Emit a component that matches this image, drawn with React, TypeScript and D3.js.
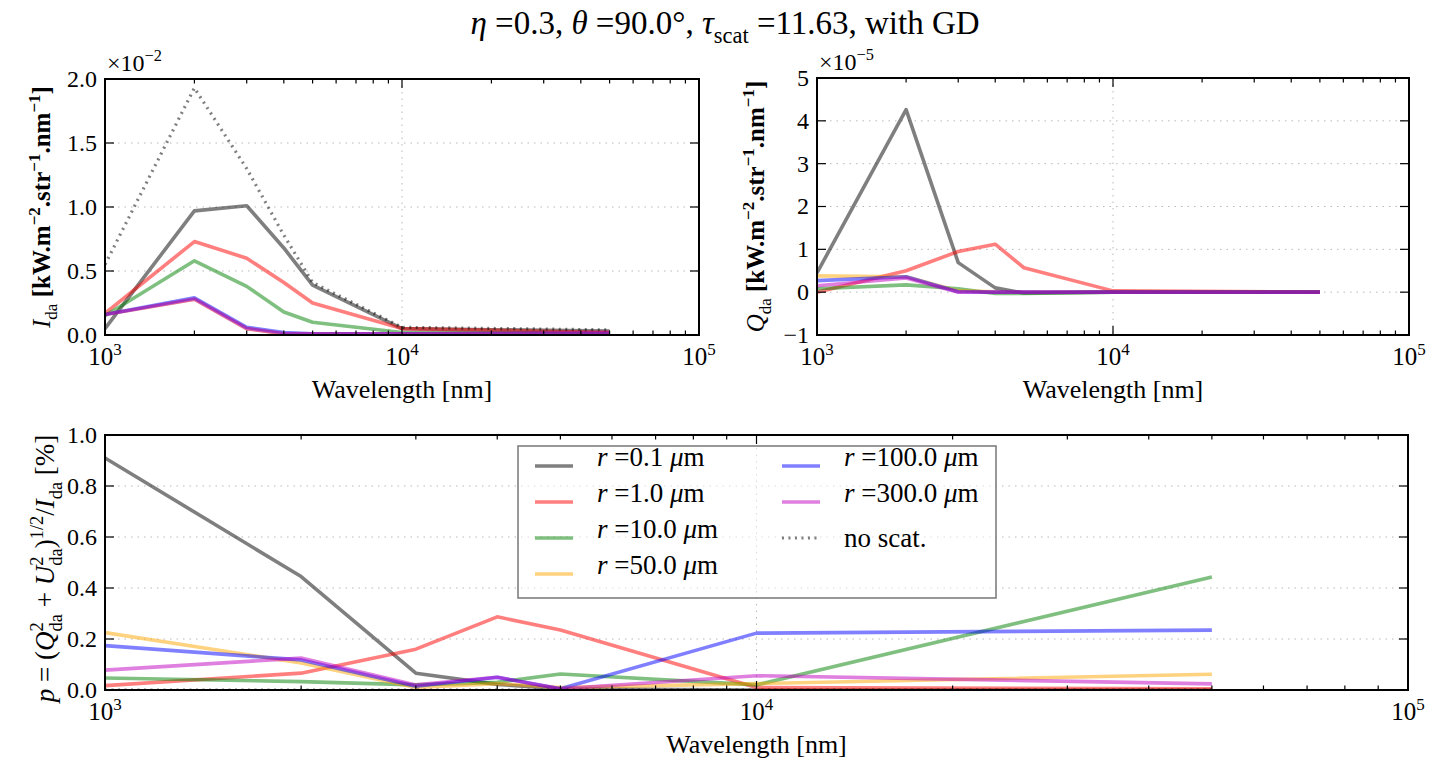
import React from "react";
import * as d3 from "d3";

const FONT = "'Liberation Serif', 'DejaVu Serif', serif";

// sampled wavelengths [nm]
const wavelengths = [1000, 2000, 3000, 4000, 5000, 10000, 50000];
const radiusLabels = ["0.1", "1.0", "10.0", "50.0", "100.0", "300.0"];
const lineColors = ["#000000", "#ff0000", "#008000", "#ffa500", "#0000ff", "#bf00bf"];

// I_da per radius, in units of 1e-2 kW m^-2 str^-1 nm^-1
const intensity = [
  [0.05, 0.97, 1.01, 0.68, 0.39, 0.05, 0.03],
  [0.17, 0.73, 0.6, 0.41, 0.25, 0.05, 0.02],
  [0.15, 0.58, 0.38, 0.18, 0.1, 0.02, 0.01],
  [0.16, 0.28, 0.05, 0.01, 0.01, 0.01, 0.01],
  [0.16, 0.29, 0.06, 0.02, 0.01, 0.01, 0.01],
  [0.16, 0.28, 0.05, 0.01, 0.01, 0.01, 0.02],
];
const intensityNoScat = [0.55, 1.93, 1.3, 0.78, 0.41, 0.06, 0.04];

// Q_da per radius, in units of 1e-5
const stokesQ = [
  [0.45, 4.26, 0.69, 0.1, -0.02, 0.0, 0.0],
  [0.0, 0.5, 0.95, 1.12, 0.57, 0.03, 0.0],
  [0.08, 0.17, 0.08, -0.03, -0.03, 0.0, 0.0],
  [0.38, 0.36, 0.03, 0.01, 0.0, 0.0, 0.0],
  [0.27, 0.36, 0.01, 0.0, 0.0, 0.0, 0.0],
  [0.15, 0.33, 0.0, 0.0, 0.0, 0.0, 0.0],
];

// degree of polarisation p [%]
const polarization = [
  [0.91, 0.445, 0.066, 0.022, 0.005, 0.0, 0.0],
  [0.017, 0.066, 0.16, 0.287, 0.235, 0.01, 0.005],
  [0.047, 0.033, 0.02, 0.03, 0.063, 0.02, 0.443],
  [0.225, 0.106, 0.01, 0.025, 0.01, 0.025, 0.062],
  [0.174, 0.118, 0.015, 0.05, 0.005, 0.223, 0.235],
  [0.078, 0.125, 0.02, 0.05, 0.005, 0.056, 0.024],
];
const polarizationNoScat = [0, 0, 0, 0, 0, 0, 0];

const intensityTicks = [0, 0.5, 1.0, 1.5, 2.0];
const stokesTicks = [-1, 0, 1, 2, 3, 4, 5];
const polarizationTicks = [0, 0.2, 0.4, 0.6, 0.8, 1.0];

type Piece = { t: string; s?: "sub" | "sup"; i?: boolean; b?: boolean; dx?: number };

// math-ish text with sub/superscripts as tspans
function rich(pieces: Piece[], size: number) {
  let shift = 0;
  return pieces.map((p, k) => {
    const target = p.s === "sub" ? size * 0.28 : p.s === "sup" ? -size * 0.42 : 0;
    const dy = target - shift;
    shift = target;
    return (
      <tspan
        key={k}
        dy={dy}
        dx={p.dx}
        fontSize={p.s ? size * 0.68 : size}
        fontStyle={p.i ? "italic" : undefined}
        fontWeight={p.b ? "bold" : undefined}
      >
        {p.t}
      </tspan>
    );
  });
}

type Box = { left: number; right: number; top: number; bottom: number };

function Panel({ id, box, yDomain, yTicks, yFormat, series, noScat, yLabel, multiplier, children }: any) {
  const b: Box = box;
  const x = d3.scaleLog().domain([1e3, 1e5]).range([b.left, b.right]);
  const y = d3.scaleLinear().domain(yDomain).range([b.bottom, b.top]);
  const line = d3
    .line<number>()
    .x((_, i) => x(wavelengths[i]))
    .y((v) => y(v));
  const allTicks = x.ticks();
  const major = allTicks.filter((t) => Number.isInteger(Math.log10(t)));
  const minor = allTicks.filter((t) => !Number.isInteger(Math.log10(t)));
  const grid = { stroke: "#b8b8b8", strokeWidth: 1, strokeDasharray: "1.5,5" };

  return (
    <g>
      <defs>
        <clipPath id={id}>
          <rect x={b.left} y={b.top} width={b.right - b.left} height={b.bottom - b.top} />
        </clipPath>
      </defs>
      {major.map((t) => (
        <line key={"gx" + t} x1={x(t)} x2={x(t)} y1={b.top} y2={b.bottom} {...grid} />
      ))}
      {yTicks.map((t: number) => (
        <line key={"gy" + t} x1={b.left} x2={b.right} y1={y(t)} y2={y(t)} {...grid} />
      ))}
      <g clipPath={`url(#${id})`} fill="none">
        {series.map((vals: number[], i: number) => (
          <path
            key={i}
            d={line(vals) || ""}
            stroke={lineColors[i]}
            strokeOpacity={0.5}
            strokeWidth={3.6}
            strokeLinejoin="round"
          />
        ))}
        {noScat && (
          <path
            d={line(noScat) || ""}
            stroke="#000"
            strokeOpacity={0.5}
            strokeWidth={3.2}
            strokeDasharray="2,4.5"
          />
        )}
      </g>
      {children}
      <rect x={b.left} y={b.top} width={b.right - b.left} height={b.bottom - b.top} fill="none" stroke="#000" strokeWidth={2} />
      <g stroke="#000" strokeWidth={1.2}>
        {major.map((t) => (
          <g key={"mx" + t}>
            <line x1={x(t)} x2={x(t)} y1={b.bottom} y2={b.bottom - 9} />
            <line x1={x(t)} x2={x(t)} y1={b.top} y2={b.top + 9} />
          </g>
        ))}
        {minor.map((t) => (
          <g key={"nx" + t}>
            <line x1={x(t)} x2={x(t)} y1={b.bottom} y2={b.bottom - 4.5} />
            <line x1={x(t)} x2={x(t)} y1={b.top} y2={b.top + 4.5} />
          </g>
        ))}
        {yTicks.map((t: number) => (
          <g key={"my" + t}>
            <line x1={b.left} x2={b.left + 9} y1={y(t)} y2={y(t)} />
            <line x1={b.right} x2={b.right - 9} y1={y(t)} y2={y(t)} />
          </g>
        ))}
      </g>
      <g fontFamily={FONT} fill="#000">
        {major.map((t) => (
          <text key={"lx" + t} x={x(t)} y={b.bottom + 30} textAnchor="middle" fontSize={25}>
            {rich([{ t: "10" }, { t: String(Math.round(Math.log10(t))), s: "sup" }], 25)}
          </text>
        ))}
        {yTicks.map((t: number) => (
          <text key={"ly" + t} x={b.left - 8} y={y(t)} dy="0.33em" textAnchor="end" fontSize={24}>
            {yFormat(t)}
          </text>
        ))}
        <text x={(b.left + b.right) / 2} y={b.bottom + 63} textAnchor="middle" fontSize={26}>
          Wavelength [nm]
        </text>
        {multiplier && (
          <text x={b.left + 2} y={b.top - 8} fontSize={24}>
            {rich([{ t: "×10" }, { t: multiplier, s: "sup" }], 24)}
          </text>
        )}
        {yLabel}
      </g>
    </g>
  );
}

function Legend({ x0, y0, w, h }: any) {
  const rows = [466, 502, 538, 574].map((v) => v - y0);
  const entries = radiusLabels.map((r, i) => ({ label: r, color: lineColors[i], dotted: false }));
  const cells = [
    ...entries.map((e, i) => ({ ...e, col: i < 4 ? 0 : 1, row: i < 4 ? i : i - 4 })),
    { label: "", color: "#000", dotted: true, col: 1, row: 2 },
  ];
  const colX = [17, 264];
  return (
    <g transform={`translate(${x0},${y0})`} fontFamily={FONT}>
      <rect width={w} height={h} fill="#fff" fillOpacity={0.5} stroke="#7f7f7f" strokeWidth={1.6} />
      {cells.map((c, i) => (
        <g key={i} transform={`translate(${colX[c.col]},${rows[c.row]})`}>
          <line
            x1={0}
            x2={38}
            stroke={c.color}
            strokeOpacity={0.5}
            strokeWidth={c.dotted ? 3.2 : 3.6}
            strokeDasharray={c.dotted ? "2,4.5" : undefined}
          />
          <text x={62} dy="0.33em" fontSize={27} style={{ whiteSpace: "pre" }}>
            {c.dotted
              ? "no scat."
              : rich([{ t: "r", i: true }, { t: " =" + c.label + " " }, { t: "μ", i: true }, { t: "m" }], 27)}
          </text>
        </g>
      ))}
    </g>
  );
}

export default function App() {
  const tl: Box = { left: 105, right: 699, top: 79, bottom: 335 };
  const tr: Box = { left: 817, right: 1409, top: 78, bottom: 335 };
  const bt: Box = { left: 105, right: 1408, top: 435, bottom: 690 };

  const unitPieces: Piece[] = [
    { t: " [kW.m", b: true },
    { t: "−2", s: "sup", b: true },
    { t: ".str", b: true },
    { t: "−1", s: "sup", b: true },
    { t: ".nm", b: true },
    { t: "−1", s: "sup", b: true },
    { t: "]", b: true },
  ];

  return (
    <svg
      width={1451}
      height={782}
      style={{ position: "absolute", left: 0, top: 0, background: "#fff" }}
      fontFamily={FONT}
    >
      <rect width={1451} height={782} fill="#fff" />
      <text x={725} y={34} textAnchor="middle" fontSize={33} style={{ whiteSpace: "pre" }}>
        {rich(
          [
            { t: "η", i: true },
            { t: " =0.3, " },
            { t: "θ", i: true },
            { t: " =90.0°, " },
            { t: "τ", i: true },
            { t: "scat", s: "sub" },
            { t: " =11.63, with GD" },
          ],
          33
        )}
      </text>

      <Panel
        id="clip-i"
        box={tl}
        yDomain={[0, 2]}
        yTicks={intensityTicks}
        yFormat={(t: number) => t.toFixed(1)}
        series={intensity}
        noScat={intensityNoScat}
        multiplier="−2"
        yLabel={
          <text
            transform={`translate(50,${(tl.top + tl.bottom) / 2}) rotate(-90)`}
            textAnchor="middle"
            fontSize={25}
            style={{ whiteSpace: "pre" }}
          >
            {rich([{ t: "I", i: true }, { t: "da", s: "sub" }, ...unitPieces], 25)}
          </text>
        }
      />

      <Panel
        id="clip-q"
        box={tr}
        yDomain={[-1, 5]}
        yTicks={stokesTicks}
        yFormat={(t: number) => (t < 0 ? "−" + Math.abs(t) : String(t))}
        series={stokesQ}
        multiplier="−5"
        yLabel={
          <text
            transform={`translate(764,${(tr.top + tr.bottom) / 2}) rotate(-90)`}
            textAnchor="middle"
            fontSize={25}
            style={{ whiteSpace: "pre" }}
          >
            {rich([{ t: "Q", i: true }, { t: "da", s: "sub" }, ...unitPieces], 25)}
          </text>
        }
      />

      <Panel
        id="clip-p"
        box={bt}
        yDomain={[0, 1]}
        yTicks={polarizationTicks}
        yFormat={(t: number) => t.toFixed(1)}
        series={polarization}
        noScat={polarizationNoScat}
        yLabel={
          <text
            transform={`translate(54,${(bt.top + bt.bottom) / 2 + 6}) rotate(-90)`}
            textAnchor="middle"
            fontSize={27}
            style={{ whiteSpace: "pre" }}
          >
            {rich(
              [
                { t: "p", i: true },
                { t: " = (" },
                { t: "Q", i: true },
                { t: "2", s: "sup" },
                { t: "da", s: "sub", dx: -9 },
                { t: " + " },
                { t: "U", i: true },
                { t: "2", s: "sup" },
                { t: "da", s: "sub", dx: -9 },
                { t: ")" },
                { t: "1/2", s: "sup" },
                { t: "/" },
                { t: "I", i: true },
                { t: "da", s: "sub" },
                { t: " [%]" },
              ],
              27
            )}
          </text>
        }
      >
        <Legend x0={518} y0={446} w={478} h={152} />
      </Panel>
    </svg>
  );
}
